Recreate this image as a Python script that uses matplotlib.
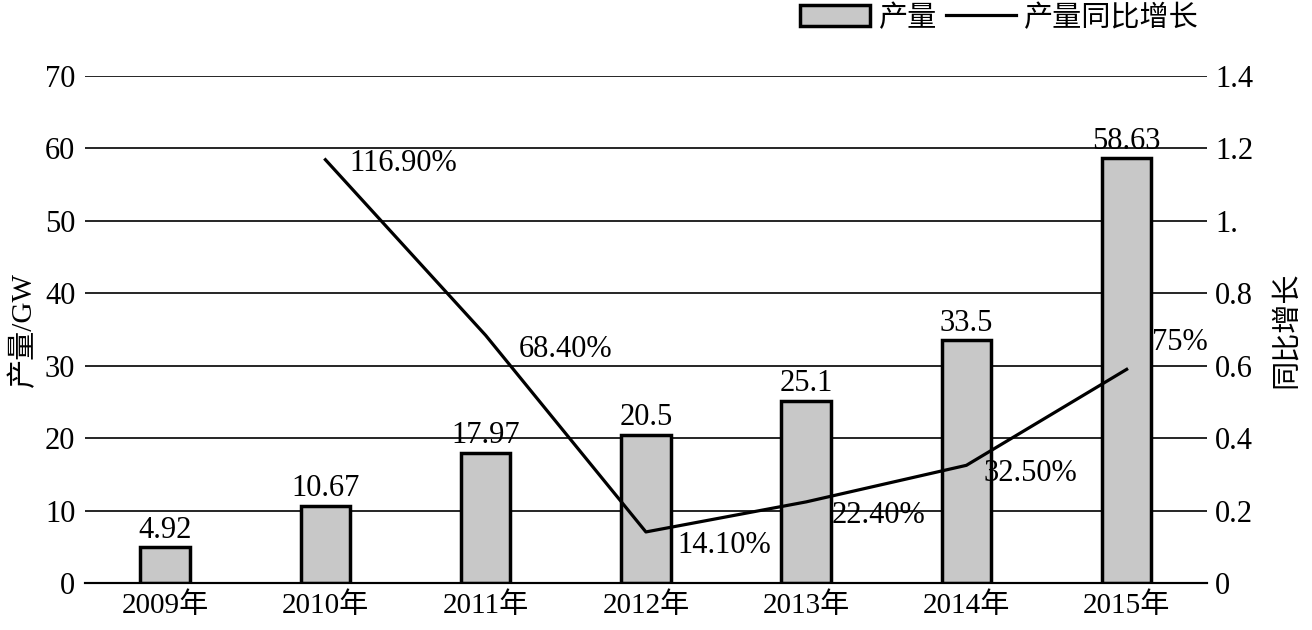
import matplotlib.pyplot as plt
import numpy as np

plt.rcParams['font.family'] = ['Liberation Serif', 'Noto Sans CJK SC']
plt.rcParams['font.size'] = 22

# --- Daten ---
jahre = ["2009年", "2010年", "2011年", "2012年", "2013年", "2014年", "2015年"]
produktion = [4.92, 10.67, 17.97, 20.5, 25.1, 33.5, 58.63]
wachstum = [np.nan, 1.169, 0.684, 0.141, 0.224, 0.325, 0.59]
wachstum_text = ["", "116.90%", "68.40%", "14.10%", "22.40%", "32.50%", "75%"]
rechts_ticks = [0, 0.2, 0.4, 0.6, 0.8, 1.0, 1.2, 1.4]
rechts_labels = ["0", "0.2", "0.4", "0.6", "0.8", "1.", "1.2", "1.4"]

# Textversatz (Punkte) fuer die Prozentwerte
versatz = [(0, 0), (17, -3), (24, -10), (23, -10), (18, -10), (12, -6), (18, 19)]

x = np.arange(len(jahre))

fig = plt.figure(figsize=(13.12, 6.3), dpi=100)
ax1 = fig.add_axes([0.0648, 0.0746, 0.855, 0.8047])
ax2 = ax1.twinx()

bars = ax1.bar(x, produktion, width=0.31, color='#c8c8c8', edgecolor='black',
               linewidth=2.5, label="产量", zorder=3)
ax1.bar_label(bars, labels=[f"{v:g}" for v in produktion], padding=2, fontsize=22)

ax1.set_xlim(-0.5, len(jahre) - 0.5)
ax1.set_ylim(0, 70)
ax1.set_yticks(range(0, 71, 10))
ax1.set_xticks(x)
ax1.set_xticklabels(jahre, fontsize=21)
ax1.grid(True, axis='y', color='black', linewidth=1.2)
ax1.set_axisbelow(True)
ax1.tick_params(axis='both', length=0, pad=7)
ax1.set_ylabel("产量/GW", labelpad=6, fontsize=21)

linie, = ax2.plot(x, wachstum, color='black', linewidth=2.3, label="产量同比增长", zorder=4)
for i, txt in enumerate(wachstum_text):
    if txt:
        ax2.annotate(txt, (x[i], wachstum[i]), xytext=versatz[i], textcoords='offset points',
                     ha='left', va='center', fontsize=22)

ax2.set_ylim(0, 1.4)
ax2.set_yticks(rechts_ticks)
ax2.set_yticklabels(rechts_labels)
ax2.tick_params(axis='y', length=0, pad=6)
ax2.set_ylabel("同比增长", labelpad=14, fontsize=21)

for a in (ax1, ax2):
    for s in ("top", "left", "right"):
        a.spines[s].set_visible(False)
    a.spines["bottom"].set_linewidth(1.5)

fig.legend(handles=[bars, linie], loc='upper right', bbox_to_anchor=(0.934, 1.035),
           ncol=2, frameon=False, handlelength=2.4, handletextpad=0.3,
           columnspacing=0.3, fontsize=21)

fig.savefig("out.png", dpi=100)
